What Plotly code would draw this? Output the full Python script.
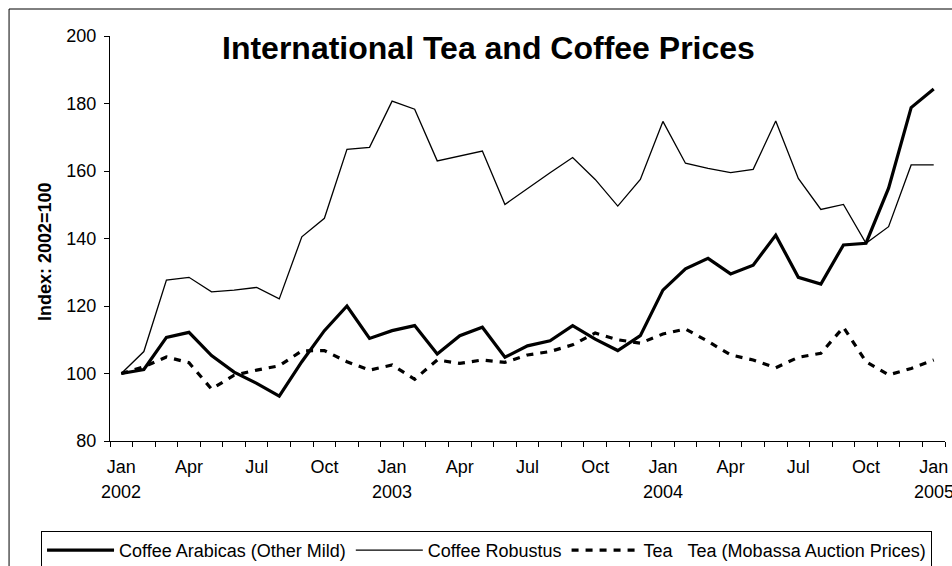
import plotly.graph_objects as go

months = ["Jan 2002","Feb 2002","Mar 2002","Apr 2002","May 2002","Jun 2002","Jul 2002","Aug 2002","Sep 2002","Oct 2002","Nov 2002","Dec 2002",
          "Jan 2003","Feb 2003","Mar 2003","Apr 2003","May 2003","Jun 2003","Jul 2003","Aug 2003","Sep 2003","Oct 2003","Nov 2003","Dec 2003",
          "Jan 2004","Feb 2004","Mar 2004","Apr 2004","May 2004","Jun 2004","Jul 2004","Aug 2004","Sep 2004","Oct 2004","Nov 2004","Dec 2004",
          "Jan 2005"]

arabica = [100, 101.2, 110.7, 112.2, 105.3, 100.4, 97.1, 93.3, 103.5, 112.7, 120.0, 110.4, 112.7,
           114.2, 105.8, 111.2, 113.7, 104.8, 108.2, 109.7, 114.2, 110.2, 106.8, 111.2, 124.7,
           131.0, 134.1, 129.5, 132.1, 141.0, 128.5, 126.5, 138.1, 138.6, 154.9, 178.8, 184.3]
robusta = [100, 106.5, 127.7, 128.5, 124.2, 124.7, 125.5, 122.1, 140.5, 146.0, 166.4, 167.0, 180.7,
           178.3, 163.0, 164.4, 165.9, 150.1, 154.9, 159.5, 164.0, 157.5, 149.6, 157.5, 174.7,
           162.3, 160.8, 159.5, 160.5, 174.8, 157.8, 148.6, 150.1, 138.6, 143.5, 161.8, 161.8]
tea = [100, 102.0, 104.9, 103.2, 95.4, 99.5, 101.0, 102.3, 106.7, 106.8, 103.5, 101.0, 102.5,
       98.3, 104.0, 103.0, 104.0, 103.3, 105.5, 106.5, 108.5, 112.0, 110.0, 109.0, 111.7,
       113.2, 109.5, 105.5, 104.0, 101.7, 104.8, 106.0, 113.7, 103.5, 99.6, 101.5, 104.0]

series_names = ["Coffee Arabicas (Other Mild)", "Coffee Robustus",
                "Tea\u00a0\u00a0\u00a0Tea (Mobassa Auction Prices)"]
tick_idx = list(range(0, 37, 3))
tick_text = [months[i].split()[0] for i in tick_idx]
year_idx = [0, 12, 24, 36]
year_text = [months[i].split()[1] for i in year_idx]
y_ticks = [80, 100, 120, 140, 160, 180, 200]

x = list(range(len(months)))
FONT = "Liberation Sans, Arial, sans-serif"
FS = 18

fig = go.Figure()
fig.add_trace(go.Scatter(x=x, y=arabica, mode="lines", name=series_names[0],
                         line=dict(color="black", width=3.2)))
fig.add_trace(go.Scatter(x=x, y=robusta, mode="lines", name=series_names[1],
                         line=dict(color="black", width=1.3)))
fig.add_trace(go.Scatter(x=x, y=tea, mode="lines", name=series_names[2],
                         line=dict(color="black", width=3.2, dash="7px,7px")))

W, H = 952, 566
L, R = 110, 945.5
T, B = 36, 441
pw, ph = R - L, B - T

def px2x(px):
    return (px - L) / pw

def px2y(py):
    return (B - py) / ph

fig.update_layout(
    width=W, height=H,
    margin=dict(l=L, r=W - R, t=T, b=H - B, pad=0, autoexpand=False),
    paper_bgcolor="white", plot_bgcolor="white",
    font=dict(family=FONT, size=FS, color="black"),
    showlegend=True,
    legend=dict(orientation="h", x=px2x(41), y=px2y(531), xanchor="left", yanchor="top",
                bordercolor="black", borderwidth=1, bgcolor="white",
                font=dict(size=FS, family=FONT), itemwidth=67, tracegroupgap=0,
                traceorder="normal"),
    xaxis=dict(range=[-0.5, 36.5], showgrid=False, zeroline=False,
               showline=True, linecolor="black", linewidth=1,
               tickmode="array", tickvals=tick_idx, ticktext=tick_text,
               ticks="", ticklen=0, ticklabelstandoff=9, automargin=False,
               minor=dict(ticks="outside", ticklen=5, tickcolor="black", tickmode="linear",
                          tick0=-0.5, dtick=1, showgrid=False),
               tickfont=dict(size=FS, family=FONT)),
    yaxis=dict(range=[80, 200], showgrid=False, zeroline=False,
               showline=True, linecolor="black", linewidth=1,
               tickmode="array", tickvals=y_ticks, automargin=False,
               ticks="outside", ticklen=5, tickcolor="black", ticklabelstandoff=4,
               tickfont=dict(size=FS, family=FONT)),
)

annotations = [
    dict(text="<b>International Tea and Coffee Prices</b>", xref="paper", yref="paper",
         x=px2x(489), y=px2y(48), xanchor="center", yanchor="middle", showarrow=False,
         font=dict(size=32, family=FONT, color="black")),
    dict(text="<b>Index: 2002=100</b>", xref="paper", yref="paper",
         x=px2x(45), y=px2y(252), xanchor="center", yanchor="middle", showarrow=False,
         textangle=-90, font=dict(size=FS, family=FONT, color="black")),
]
for i, t in zip(year_idx, year_text):
    annotations.append(dict(text=t, xref="x", yref="paper", x=i, y=px2y(492),
                            xanchor="center", yanchor="middle", showarrow=False,
                            font=dict(size=FS, family=FONT, color="black")))
fig.update_layout(annotations=annotations)

fig.add_shape(type="rect", xref="paper", yref="paper",
              x0=px2x(9), x1=px2x(960), y0=px2y(580), y1=px2y(9),
              line=dict(color="black", width=1), fillcolor="rgba(0,0,0,0)", layer="below")

fig.write_html("out.html")
